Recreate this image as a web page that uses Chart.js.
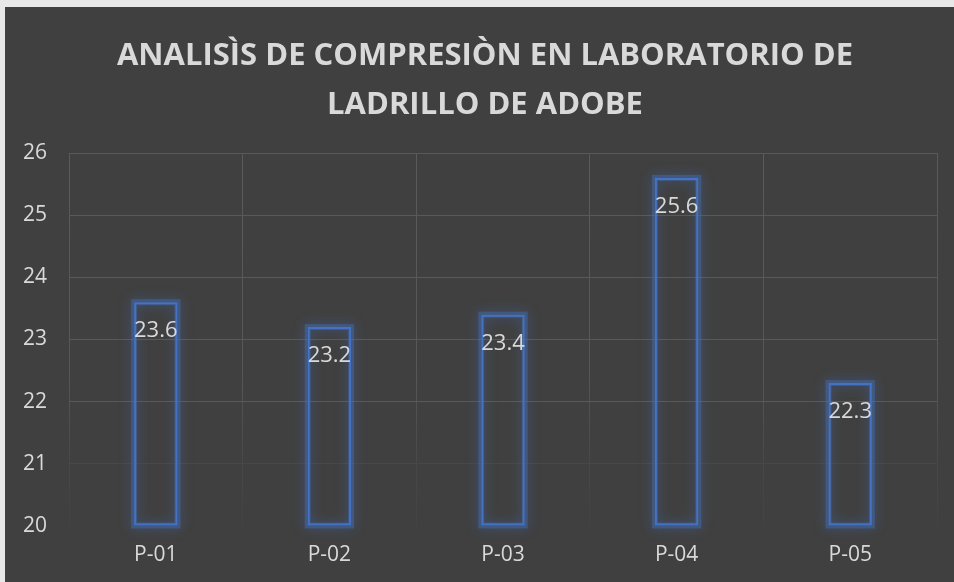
<!DOCTYPE html>
<html>
<head>
<meta charset="utf-8">
<script src="https://cdn.jsdelivr.net/npm/chart.js@4/dist/chart.umd.min.js"></script>
<style>
  html, body { margin: 0; padding: 0; background: #e8e8e8; }
  #wrap { position: absolute; left: 5px; top: 7px; width: 949px; height: 575px; background: #404040; }
  canvas { display: block; }
</style>
</head>
<body>
<div id="wrap"><canvas id="c" width="949" height="575"></canvas></div>
<script>
const titleLines = ['ANALISÌS DE COMPRESIÒN EN LABORATORIO DE', 'LADRILLO DE ADOBE'];
const categories = ['P-01', 'P-02', 'P-03', 'P-04', 'P-05'];
const values = [23.6, 23.2, 23.4, 25.6, 22.3];
const yMin = 20, yMax = 26, yStep = 1;

const TEXT = '#d9d9d9';
const BAR = '#4472C4';
const FONT = '"Open Sans", "Liberation Sans", sans-serif';

const titleShift = {
  id: 'titleShift',
  afterLayout(chart) {
    const t = chart.titleBlock;
    if (t) { t.left += 14; t.right += 14; }
  }
};

const glowPlugin = {
  id: 'glow',
  beforeDatasetsDraw(chart) {
    const ctx = chart.ctx;
    const meta = chart.getDatasetMeta(0);
    ctx.save();
    ctx.strokeStyle = 'rgba(68,114,196,0.4)';
    ctx.lineWidth = 6;
    ctx.shadowColor = 'rgba(68,114,196,0.95)';
    ctx.shadowBlur = 12;
    meta.data.forEach(el => {
      const p = el.getProps(['x', 'y', 'base', 'width'], true);
      ctx.strokeRect(p.x - p.width / 2, p.y, p.width, p.base - p.y);
    });
    ctx.restore();
  }
};

const labelPlugin = {
  id: 'vlabels',
  afterDatasetsDraw(chart) {
    const ctx = chart.ctx;
    const meta = chart.getDatasetMeta(0);
    ctx.save();
    ctx.fillStyle = TEXT;
    ctx.font = '22px ' + FONT;
    ctx.textAlign = 'center';
    ctx.textBaseline = 'middle';
    meta.data.forEach((el, i) => {
      const p = el.getProps(['x', 'y'], true);
      ctx.fillText(String(values[i]), p.x, p.y + 29);
    });
    ctx.restore();
  }
};

new Chart(document.getElementById('c'), {
  type: 'bar',
  data: {
    labels: categories,
    datasets: [{
      data: values,
      base: yMin,
      backgroundColor: 'rgba(0,0,0,0)',
      borderColor: BAR,
      borderWidth: 2,
      borderSkipped: false,
      barPercentage: 0.5,
      categoryPercentage: 0.5
    }]
  },
  options: {
    responsive: false,
    animation: false,
    devicePixelRatio: 1,
    layout: { padding: { left: 0, right: 17, top: 0, bottom: 0 } },
    plugins: {
      legend: { display: false },
      tooltip: { enabled: false },
      title: {
        display: true,
        text: titleLines,
        color: TEXT,
        font: { family: FONT, size: 31, weight: 'bold', lineHeight: 1.565 },
        padding: { top: 25, bottom: 24 }
      }
    },
    scales: {
      x: {
        grid: {
          offset: true,
          drawTicks: false,
          lineWidth: 1,
          color: (c) => {
            const ch = c.chart; const a = ch.chartArea;
            if (!a) return '#595959';
            const g = ch.ctx.createLinearGradient(0, a.top, 0, a.bottom);
            g.addColorStop(0, '#5a5a5a');
            g.addColorStop(0.6, '#575757');
            g.addColorStop(0.85, '#474747');
            g.addColorStop(1, '#434343');
            return g;
          }
        },
        border: { display: false },
        ticks: {
          color: TEXT,
          font: { family: FONT, size: 21 },
          padding: 16
        },
        afterFit(s) { s.height = 56; }
      },
      y: {
        min: yMin, max: yMax,
        grid: {
          drawTicks: false,
          lineWidth: 1,
          color: (c) => {
            const v = c.tick ? c.tick.value : 0;
            if (v <= 20) return 'rgba(0,0,0,0)';
            if (v <= 21) return '#484848';
            return '#595959';
          }
        },
        border: { display: false },
        ticks: {
          stepSize: yStep,
          color: TEXT,
          font: { family: FONT, size: 21 },
          padding: 22
        },
        afterFit(s) { s.width = 64; }
      }
    }
  },
  plugins: [titleShift, glowPlugin, labelPlugin]
});
</script>
</body>
</html>
